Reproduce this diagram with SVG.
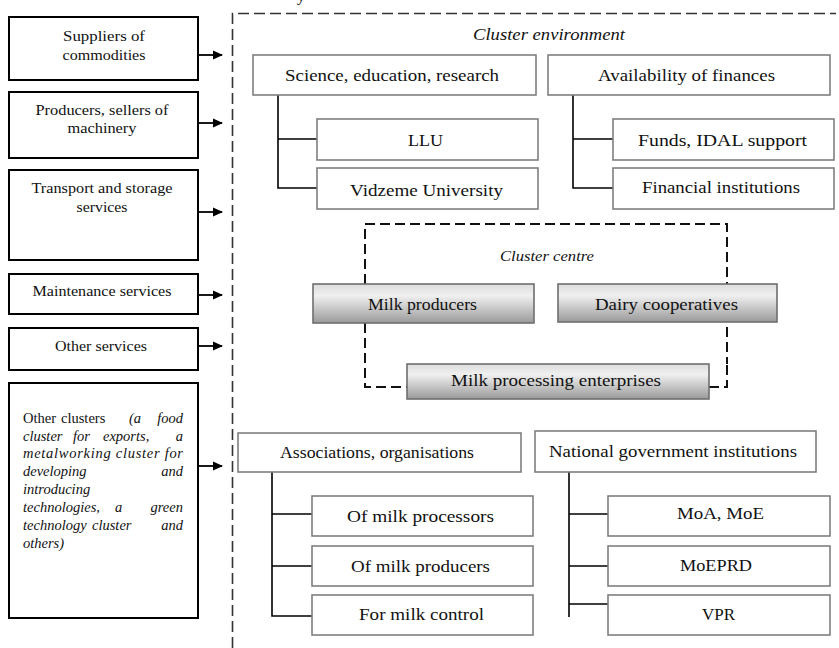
<svg xmlns="http://www.w3.org/2000/svg" width="839" height="648" viewBox="0 0 839 648">
<defs>
<style>
.lb{fill:#fff;stroke:#000;stroke-width:2}
.rb{fill:#fff;stroke:#7f7f7f;stroke-width:1.6}
.cb{fill:url(#g);stroke:#6f6f6f;stroke-width:1.6}
text{font-family:'Liberation Serif','DejaVu Serif',serif;fill:#111}
.t{text-anchor:middle}
.ls{font-size:15px}
.rs{font-size:17px}
.it{font-style:italic}
.oc{font-size:14.5px;font-style:italic}
.ocn{font-size:14.5px}
.e{text-anchor:end}
.ln{stroke:#000;stroke-width:1.6;fill:none}
.ar{stroke:#000;stroke-width:1.8;fill:none;marker-end:url(#ah)}
.dash{stroke:#333;stroke-width:1.6;fill:none;stroke-dasharray:11 5}
.dash2{stroke:#111;stroke-width:2;fill:none;stroke-dasharray:10 5}
</style>
<linearGradient id="g" x1="0" y1="0" x2="0" y2="1">
<stop offset="0" stop-color="#dcdcdc"/>
<stop offset="0.3" stop-color="#f0f0f0"/>
<stop offset="1" stop-color="#9a9a9a"/>
</linearGradient>
<marker id="ah" markerWidth="10" markerHeight="10" refX="9" refY="5" orient="auto" markerUnits="userSpaceOnUse">
<path d="M0,0.5 L10,5 L0,9.5 Z" fill="#000"/>
</marker>
</defs>

<text class="t rs" x="301" y="0.5">y</text>

<g id="outer-frame">
<path class="dash" d="M232.5,648 V13.5 H836"/>
<text class="t rs it" x="549" y="40" textLength="152" lengthAdjust="spacingAndGlyphs">Cluster environment</text>
</g>

<g id="connectors">
<line class="ar" x1="198" y1="55" x2="222" y2="55"/>
<line class="ar" x1="198" y1="123" x2="222" y2="123"/>
<line class="ar" x1="198" y1="212" x2="222" y2="212"/>
<line class="ar" x1="198" y1="295" x2="222" y2="295"/>
<line class="ar" x1="198" y1="346" x2="222" y2="346"/>
<line class="ar" x1="198" y1="466" x2="222" y2="466"/>
<path class="ln" d="M278,95 V188 H317 M278,139 H317"/>
<path class="ln" d="M573,95 V188 H613 M573,139 H613"/>
<path class="ln" d="M272,472 V616 H312 M272,514 H312 M272,566 H312"/>
<path class="ln" d="M569,472 V617 M569,514 H608 M569,566 H608 M569,604 H608"/>
</g>

<g id="suppliers">
<rect class="lb" x="9" y="17" width="189" height="63"/>
<text class="t ls" x="104" y="41" textLength="82" lengthAdjust="spacingAndGlyphs">Suppliers of</text>
<text class="t ls" x="104" y="60" textLength="83" lengthAdjust="spacingAndGlyphs">commodities</text>
</g>
<g id="producers-machinery">
<rect class="lb" x="9" y="92" width="189" height="66"/>
<text class="t ls" x="102" y="115" textLength="133" lengthAdjust="spacingAndGlyphs">Producers, sellers of</text>
<text class="t ls" x="102" y="133" textLength="69" lengthAdjust="spacingAndGlyphs">machinery</text>
</g>
<g id="transport">
<rect class="lb" x="9" y="170" width="189" height="90"/>
<text class="t ls" x="102" y="193" textLength="141" lengthAdjust="spacingAndGlyphs">Transport and storage</text>
<text class="t ls" x="102" y="212" textLength="51" lengthAdjust="spacingAndGlyphs">services</text>
</g>
<g id="maintenance">
<rect class="lb" x="9" y="274" width="189" height="40"/>
<text class="t ls" x="102" y="296" textLength="139" lengthAdjust="spacingAndGlyphs">Maintenance services</text>
</g>
<g id="other-services">
<rect class="lb" x="9" y="328" width="189" height="42"/>
<text class="t ls" x="101" y="351" textLength="92" lengthAdjust="spacingAndGlyphs">Other services</text>
</g>
<g id="other-clusters">
<rect class="lb" x="9" y="383" width="189" height="235"/>
<text class="ocn" x="23" y="423">Other</text>
<text class="ocn" x="61" y="423">clusters</text>
<text class="oc" x="129" y="423">(a</text>
<text class="oc e" x="183" y="423">food</text>
<text class="oc" x="23" y="441">cluster</text>
<text class="oc" x="73" y="441">for</text>
<text class="oc" x="103" y="441">exports,</text>
<text class="oc e" x="183" y="441">a</text>
<text class="oc" x="23" y="458" textLength="160" lengthAdjust="spacing">metalworking cluster for</text>
<text class="oc" x="23" y="476">developing</text>
<text class="oc e" x="183" y="476">and</text>
<text class="oc" x="23" y="494">introducing</text>
<text class="oc" x="23" y="512">technologies,</text>
<text class="oc" x="115" y="512">a</text>
<text class="oc e" x="183" y="512">green</text>
<text class="oc" x="23" y="530">technology</text>
<text class="oc" x="92" y="530">cluster</text>
<text class="oc e" x="183" y="530">and</text>
<text class="oc" x="23" y="548">others)</text>
</g>

<g id="science">
<rect class="rb" x="253" y="55" width="283" height="40"/>
<text class="t rs" x="392" y="81" textLength="214" lengthAdjust="spacingAndGlyphs">Science, education, research</text>
</g>
<g id="llu">
<rect class="rb" x="317" y="119" width="221" height="41"/>
<text class="t rs" x="425.5" y="146" textLength="35" lengthAdjust="spacingAndGlyphs">LLU</text>
</g>
<g id="vidzeme">
<rect class="rb" x="317" y="168" width="221" height="41"/>
<text class="t rs" x="426.5" y="196" textLength="153" lengthAdjust="spacingAndGlyphs">Vidzeme University</text>
</g>
<g id="finances">
<rect class="rb" x="548" y="55" width="282" height="40"/>
<text class="t rs" x="686.5" y="81" textLength="177" lengthAdjust="spacingAndGlyphs">Availability of finances</text>
</g>
<g id="funds">
<rect class="rb" x="613" y="119" width="221" height="41"/>
<text class="t rs" x="722.5" y="146" textLength="169" lengthAdjust="spacingAndGlyphs">Funds, IDAL support</text>
</g>
<g id="financial-institutions">
<rect class="rb" x="613" y="168" width="221" height="41"/>
<text class="t rs" x="721" y="193" textLength="158" lengthAdjust="spacingAndGlyphs">Financial institutions</text>
</g>

<g id="cluster-centre">
<path class="dash2" d="M365,284 V224 H727 V364 M365,323 V387 H407 M709,387 H727 V364"/>
<text class="t it" style="font-size:15px" x="547" y="261" textLength="94" lengthAdjust="spacingAndGlyphs">Cluster centre</text>
</g>
<g id="milk-producers">
<rect class="cb" x="313" y="284" width="221" height="39"/>
<text class="t rs" x="422.5" y="310" textLength="109" lengthAdjust="spacingAndGlyphs">Milk producers</text>
</g>
<g id="dairy-cooperatives">
<rect class="cb" x="558" y="284" width="219" height="38"/>
<text class="t rs" x="666.5" y="310" textLength="143" lengthAdjust="spacingAndGlyphs">Dairy cooperatives</text>
</g>
<g id="milk-processing">
<rect class="cb" x="407" y="364" width="302" height="35"/>
<text class="t rs" x="556" y="386" textLength="210" lengthAdjust="spacingAndGlyphs">Milk processing enterprises</text>
</g>

<g id="associations">
<rect class="rb" x="238" y="433" width="283" height="39"/>
<text class="t rs" x="377" y="458" textLength="194" lengthAdjust="spacingAndGlyphs">Associations, organisations</text>
</g>
<g id="milk-processors">
<rect class="rb" x="312" y="496" width="221" height="40"/>
<text class="t rs" x="420.5" y="522" textLength="147" lengthAdjust="spacingAndGlyphs">Of milk processors</text>
</g>
<g id="of-milk-producers">
<rect class="rb" x="312" y="546" width="221" height="40"/>
<text class="t rs" x="420.5" y="572" textLength="139" lengthAdjust="spacingAndGlyphs">Of milk producers</text>
</g>
<g id="milk-control">
<rect class="rb" x="312" y="595" width="221" height="40"/>
<text class="t rs" x="421.5" y="620" textLength="125" lengthAdjust="spacingAndGlyphs">For milk control</text>
</g>

<g id="national-government">
<rect class="rb" x="535" y="431" width="281" height="41"/>
<text class="t rs" x="673" y="457" textLength="248" lengthAdjust="spacingAndGlyphs">National government institutions</text>
</g>
<g id="moa-moe">
<rect class="rb" x="608" y="496" width="222" height="40"/>
<text class="t rs" x="720.5" y="519" textLength="87" lengthAdjust="spacingAndGlyphs">MoA, MoE</text>
</g>
<g id="moeprd">
<rect class="rb" x="608" y="546" width="222" height="40"/>
<text class="t rs" x="716" y="571" textLength="72" lengthAdjust="spacingAndGlyphs">MoEPRD</text>
</g>
<g id="vpr">
<rect class="rb" x="608" y="595" width="222" height="40"/>
<text class="t rs" x="718.5" y="620" textLength="33" lengthAdjust="spacingAndGlyphs">VPR</text>
</g>
</svg>
